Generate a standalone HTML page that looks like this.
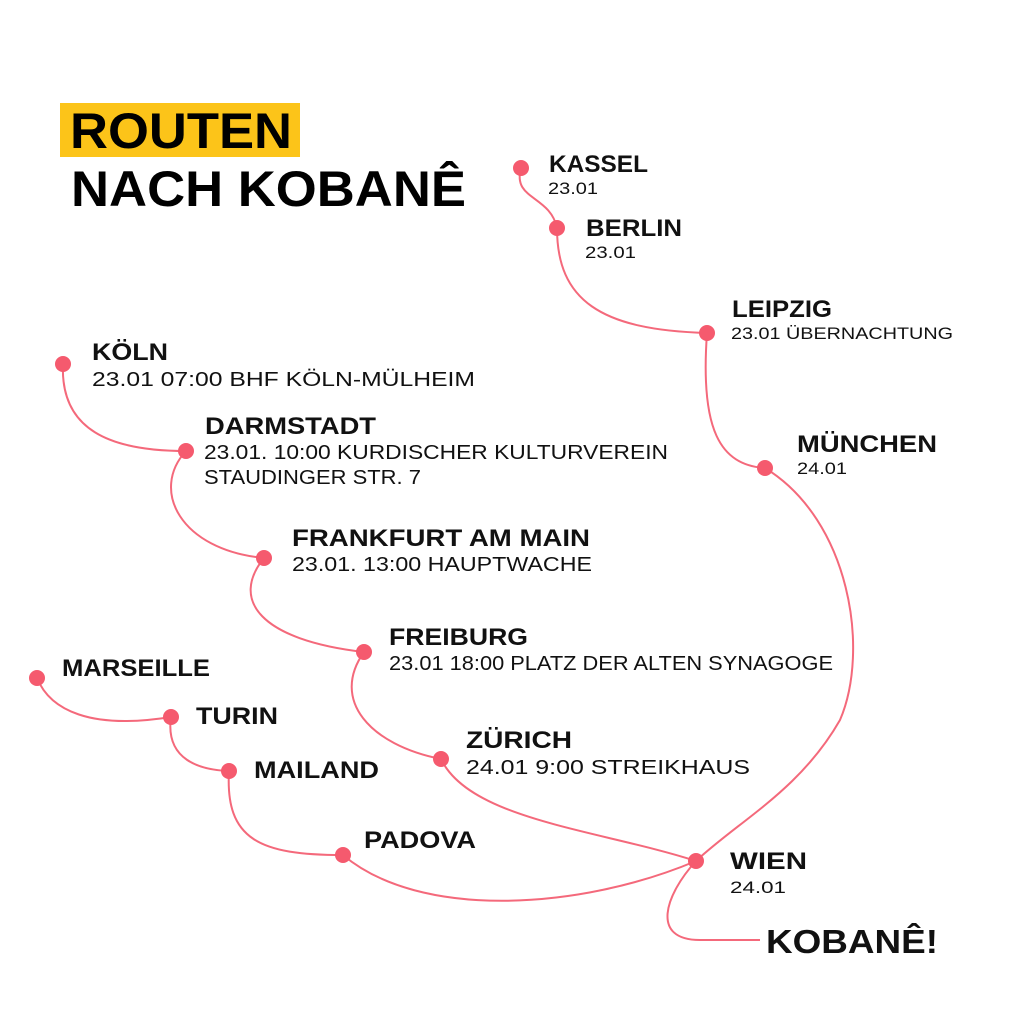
<!DOCTYPE html>
<html><head><meta charset="utf-8"><style>
html,body{margin:0;padding:0;background:#fff;}
svg{display:block}
text{font-family:"Liberation Sans",sans-serif;fill:#111}
.n{font-weight:bold;font-size:24px}
.d{font-size:20px}
.s{font-size:17px}
.t{font-weight:bold;font-size:50px;fill:#000}
path{fill:none;stroke:#f4697b;stroke-width:2}
circle{fill:#f55a6e}
</style></head><body>
<svg width="1024" height="1024" viewBox="0 0 1024 1024">
<rect width="1024" height="1024" fill="#fff"/>
<rect x="60" y="103" width="240" height="54" fill="#fcc419"/>
<text class="t" x="70" y="148" textLength="222" lengthAdjust="spacingAndGlyphs">ROUTEN</text>
<text class="t" x="71" y="206" textLength="395" lengthAdjust="spacingAndGlyphs">NACH KOBANÊ</text>

<path d="M521,168 C512,200 550,195 557,228"/>
<path d="M557,228 C557,300 600,330 707,333"/>
<path d="M707,333 C700,430 720,465 765,468"/>
<path d="M765,468 C850,520 870,650 840,720 C800,790 740,820 696,861"/>
<path d="M696,861 C665,895 650,940 700,940 L760,940"/>
<path d="M63,364 C60,430 110,451 186,451"/>
<path d="M186,451 C150,490 180,550 264,558"/>
<path d="M264,558 C230,600 260,640 364,652"/>
<path d="M364,652 C330,700 370,745 441,759"/>
<path d="M441,759 C470,820 600,830 696,861"/>
<path d="M37,678 C50,710 90,730 171,717"/>
<path d="M171,717 C165,760 200,770 229,771"/>
<path d="M229,771 C225,840 260,855 343,855"/>
<path d="M343,855 C420,920 580,910 696,861"/>

<circle cx="521" cy="168" r="8"/><circle cx="557" cy="228" r="8"/>
<circle cx="707" cy="333" r="8"/><circle cx="765" cy="468" r="8"/>
<circle cx="63" cy="364" r="8"/><circle cx="186" cy="451" r="8"/>
<circle cx="264" cy="558" r="8"/><circle cx="364" cy="652" r="8"/>
<circle cx="441" cy="759" r="8"/><circle cx="696" cy="861" r="8"/>
<circle cx="37" cy="678" r="8"/><circle cx="171" cy="717" r="8"/>
<circle cx="229" cy="771" r="8"/><circle cx="343" cy="855" r="8"/>

<g lengthAdjust="spacingAndGlyphs">
<text class="n" x="549" y="172" textLength="99" lengthAdjust="spacingAndGlyphs">KASSEL</text>
<text class="s" x="548" y="194" textLength="50" lengthAdjust="spacingAndGlyphs">23.01</text>
<text class="n" x="586" y="236" textLength="96" lengthAdjust="spacingAndGlyphs">BERLIN</text>
<text class="s" x="585" y="258" textLength="51" lengthAdjust="spacingAndGlyphs">23.01</text>
<text class="n" x="732" y="317" textLength="100" lengthAdjust="spacingAndGlyphs">LEIPZIG</text>
<text class="s" x="731" y="339" textLength="222" lengthAdjust="spacingAndGlyphs">23.01 ÜBERNACHTUNG</text>
<text class="n" x="797" y="452" textLength="140" lengthAdjust="spacingAndGlyphs">MÜNCHEN</text>
<text class="s" x="797" y="474" textLength="50" lengthAdjust="spacingAndGlyphs">24.01</text>
<text class="n" x="92" y="360" textLength="76" lengthAdjust="spacingAndGlyphs">KÖLN</text>
<text class="d" x="92" y="386" textLength="383" lengthAdjust="spacingAndGlyphs">23.01 07:00 BHF KÖLN-MÜLHEIM</text>
<text class="n" x="205" y="434" textLength="171" lengthAdjust="spacingAndGlyphs">DARMSTADT</text>
<text class="d" x="204" y="459" textLength="464" lengthAdjust="spacingAndGlyphs">23.01. 10:00 KURDISCHER KULTURVEREIN</text>
<text class="d" x="204" y="484" textLength="217" lengthAdjust="spacingAndGlyphs">STAUDINGER STR. 7</text>
<text class="n" x="292" y="546" textLength="298" lengthAdjust="spacingAndGlyphs">FRANKFURT AM MAIN</text>
<text class="d" x="292" y="571" textLength="300" lengthAdjust="spacingAndGlyphs">23.01. 13:00 HAUPTWACHE</text>
<text class="n" x="389" y="645" textLength="139" lengthAdjust="spacingAndGlyphs">FREIBURG</text>
<text class="d" x="389" y="670" textLength="444" lengthAdjust="spacingAndGlyphs">23.01 18:00 PLATZ DER ALTEN SYNAGOGE</text>
<text class="n" x="466" y="748" textLength="106" lengthAdjust="spacingAndGlyphs">ZÜRICH</text>
<text class="d" x="466" y="774" textLength="284" lengthAdjust="spacingAndGlyphs">24.01 9:00 STREIKHAUS</text>
<text class="n" x="730" y="869" textLength="77" lengthAdjust="spacingAndGlyphs">WIEN</text>
<text class="s" x="730" y="893" textLength="56" lengthAdjust="spacingAndGlyphs">24.01</text>
<text class="n" x="62" y="676" textLength="148" lengthAdjust="spacingAndGlyphs">MARSEILLE</text>
<text class="n" x="196" y="724" textLength="82" lengthAdjust="spacingAndGlyphs">TURIN</text>
<text class="n" x="254" y="778" textLength="125" lengthAdjust="spacingAndGlyphs">MAILAND</text>
<text class="n" x="364" y="848" textLength="112" lengthAdjust="spacingAndGlyphs">PADOVA</text>
<text class="n" x="766" y="953" style="font-size:33px" textLength="172" lengthAdjust="spacingAndGlyphs">KOBANÊ!</text>
</g>
</svg>
</body></html>
